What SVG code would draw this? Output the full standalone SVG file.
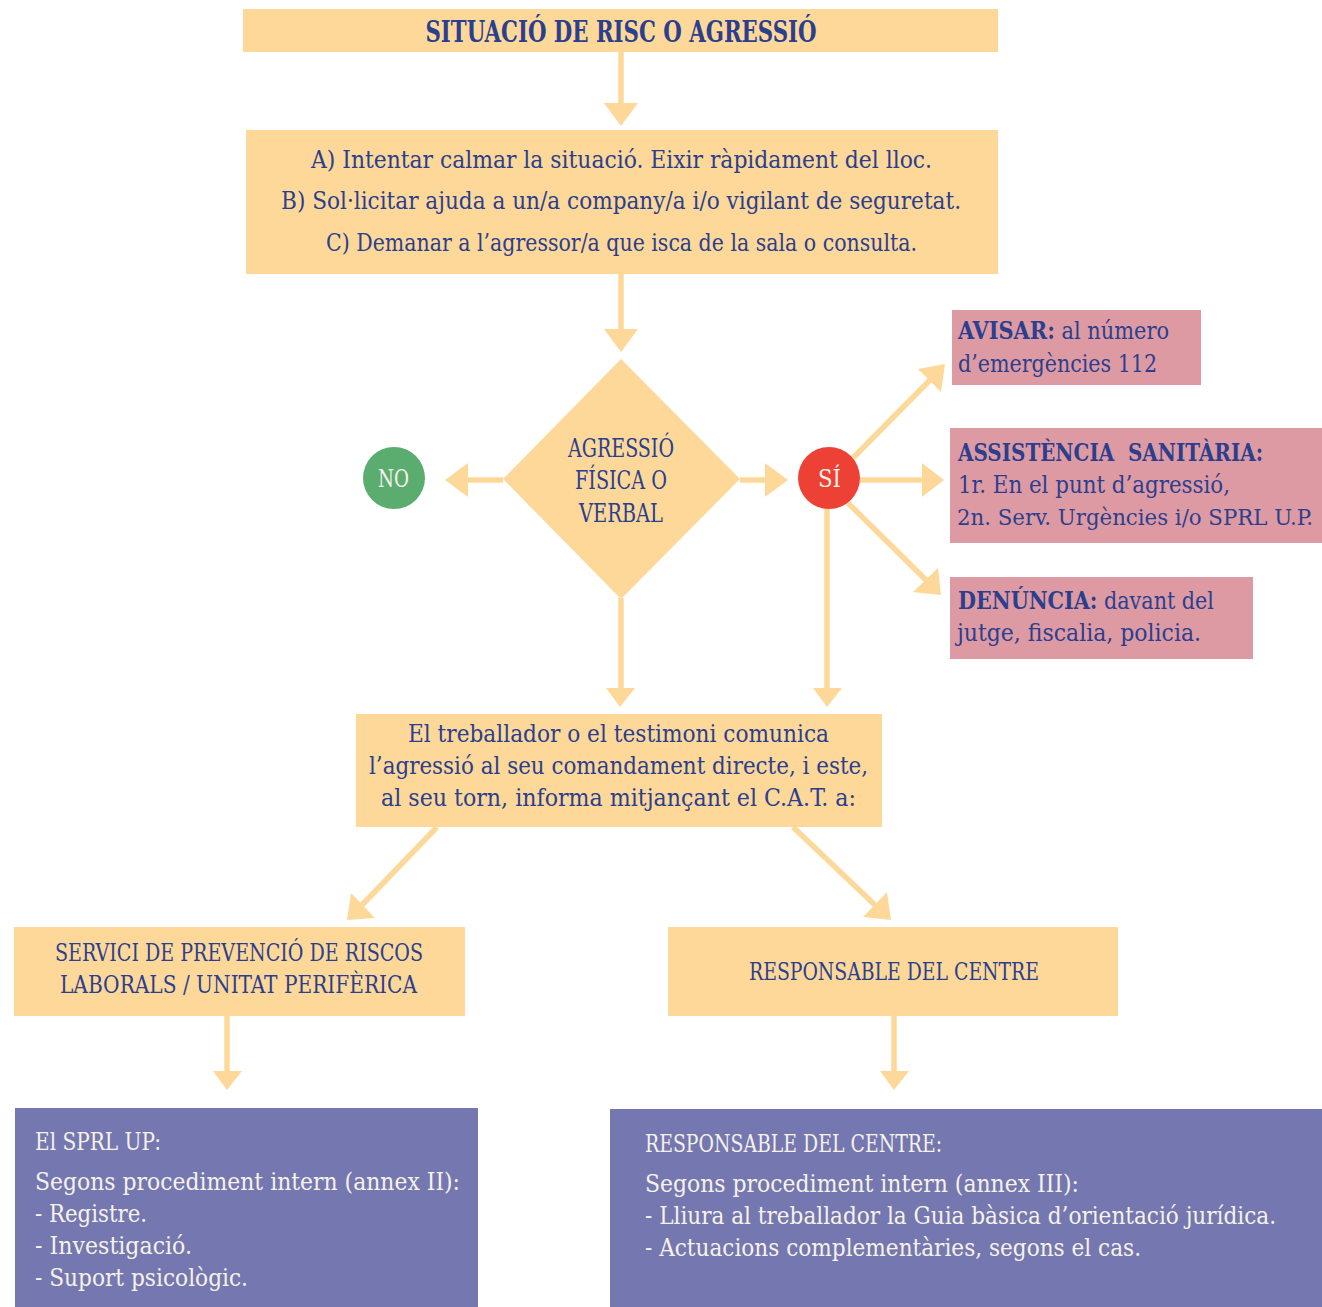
<svg xmlns="http://www.w3.org/2000/svg" width="1322" height="1307" viewBox="0 0 1322 1307">
<defs>
<style>
.y{fill:#FDD899}
.pk{fill:#DE9AA3}
.pu{fill:#7577B0}
.sh{stroke:#FDD899;stroke-width:5.5;fill:none}
.hd{fill:#FDD899}
text{font-family:"DejaVu Serif Condensed","DejaVu Serif","Liberation Serif",serif;font-stretch:condensed}
.t{fill:#2B3F8E;font-size:24.5px}
.c{text-anchor:middle}
.b{font-weight:bold}
.w{fill:#F6F2EA;font-size:24.5px}
</style>
</defs>
<rect width="1322" height="1307" fill="#FFFFFF"/>

<g id="connectors">
<line class="sh" x1="621" y1="52" x2="621" y2="104"/>
<polygon class="hd" points="604,103 638,103 621,126"/>
<line class="sh" x1="621" y1="274" x2="621" y2="330"/>
<polygon class="hd" points="604,329 638,329 621,352"/>
<line class="sh" x1="503" y1="480" x2="466" y2="480"/>
<polygon class="hd" points="468,463 468,497 445,480"/>
<line class="sh" x1="740" y1="480" x2="767" y2="480"/>
<polygon class="hd" points="765,463 765,497 788,480"/>
<line class="sh" x1="621" y1="598" x2="621" y2="690"/>
<polygon class="hd" points="606,688 635,688 620,707"/>
<line class="sh" x1="827" y1="505" x2="827" y2="690"/>
<polygon class="hd" points="813,688 842,688 827,707"/>
<line class="sh" x1="853" y1="458" x2="930" y2="380"/>
<polygon class="hd" points="918,369 941,392 945,364"/>
<line class="sh" x1="860" y1="480" x2="924" y2="480"/>
<polygon class="hd" points="922,463 922,497 944,480"/>
<line class="sh" x1="848" y1="503" x2="926" y2="580"/>
<polygon class="hd" points="913,592 938,568 941,595"/>
<line class="sh" x1="437" y1="827" x2="362" y2="905"/>
<polygon class="hd" points="351,893 375,918 347,920"/>
<line class="sh" x1="793" y1="827" x2="876" y2="906"/>
<polygon class="hd" points="887,892 863,917 891,920"/>
<line class="sh" x1="227" y1="1016" x2="227" y2="1073"/>
<polygon class="hd" points="213,1071 242,1071 227,1090"/>
<line class="sh" x1="894" y1="1016" x2="894" y2="1073"/>
<polygon class="hd" points="880,1071 909,1071 894,1090"/>
</g>

<g id="node-title">
<rect class="y" x="243" y="9" width="755" height="43"/>
<text class="t c b" x="621" y="42" textLength="391" lengthAdjust="spacingAndGlyphs" style="font-size:29px">SITUACIÓ DE RISC O AGRESSIÓ</text>
</g>

<g id="node-actions">
<rect class="y" x="246" y="130" width="752" height="144"/>
<text class="t" x="311" y="168" textLength="621" lengthAdjust="spacingAndGlyphs">A) Intentar calmar la situació. Eixir ràpidament del lloc.</text>
<text class="t" x="281" y="209" textLength="680" lengthAdjust="spacingAndGlyphs">B) Sol·licitar ajuda a un/a company/a i/o vigilant de seguretat.</text>
<text class="t" x="326" y="251" textLength="591" lengthAdjust="spacingAndGlyphs">C) Demanar a l’agressor/a que isca de la sala o consulta.</text>
</g>

<g id="node-decision">
<polygon class="y" points="621,359 740,479 621,599 503,479"/>
<text class="t" x="568" y="457" textLength="106" lengthAdjust="spacingAndGlyphs" style="font-size:25.5px">AGRESSIÓ</text>
<text class="t" x="575" y="489" textLength="92" lengthAdjust="spacingAndGlyphs" style="font-size:25.5px">FÍSICA O</text>
<text class="t" x="579" y="522" textLength="84" lengthAdjust="spacingAndGlyphs" style="font-size:25.5px">VERBAL</text>
</g>

<g id="node-no">
<circle cx="394" cy="478" r="31" fill="#5AAD6E"/>
<text class="w" x="378" y="487" textLength="31" lengthAdjust="spacingAndGlyphs" style="font-size:24px">NO</text>
</g>

<g id="node-si">
<circle cx="829" cy="478" r="31" fill="#EE4136"/>
<text class="w" x="818" y="487" textLength="23" lengthAdjust="spacingAndGlyphs" style="font-size:24px">SÍ</text>
</g>

<g id="node-avisar">
<rect class="pk" x="952" y="310" width="249" height="75"/>
<text class="t" x="958" y="339" textLength="211" lengthAdjust="spacingAndGlyphs"><tspan class="b">AVISAR:</tspan> al número</text>
<text class="t" x="958" y="372" textLength="199" lengthAdjust="spacingAndGlyphs">d’emergències 112</text>
</g>

<g id="node-assistencia">
<rect class="pk" x="950" y="428" width="372" height="115"/>
<text class="t b" x="958" y="461" textLength="305" lengthAdjust="spacingAndGlyphs">ASSISTÈNCIA&#160; SANITÀRIA:</text>
<text class="t" x="958" y="493" textLength="272" lengthAdjust="spacingAndGlyphs">1r. En el punt d’agressió,</text>
<text class="t" x="957" y="525" textLength="356" lengthAdjust="spacingAndGlyphs" style="font-size:21.5px">2n. Serv. Urgències i/o SPRL U.P.</text>
</g>

<g id="node-denuncia">
<rect class="pk" x="950" y="577" width="303" height="82"/>
<text class="t" x="958" y="609" textLength="256" lengthAdjust="spacingAndGlyphs"><tspan class="b">DENÚNCIA:</tspan> davant del</text>
<text class="t" x="957" y="641" textLength="244" lengthAdjust="spacingAndGlyphs">jutge, fiscalia, policia.</text>
</g>

<g id="node-comunica">
<rect class="y" x="356" y="714" width="526" height="113"/>
<text class="t" x="408" y="742" textLength="421" lengthAdjust="spacingAndGlyphs">El treballador o el testimoni comunica</text>
<text class="t" x="369" y="774" textLength="499" lengthAdjust="spacingAndGlyphs">l’agressió al seu comandament directe, i este,</text>
<text class="t" x="381" y="806" textLength="475" lengthAdjust="spacingAndGlyphs">al seu torn, informa mitjançant el C.A.T. a:</text>
</g>

<g id="node-servici">
<rect class="y" x="14" y="927" width="451" height="89"/>
<text class="t" x="55" y="961" textLength="368" lengthAdjust="spacingAndGlyphs">SERVICI DE PREVENCIÓ DE RISCOS</text>
<text class="t" x="60" y="993" textLength="357" lengthAdjust="spacingAndGlyphs">LABORALS / UNITAT PERIFÈRICA</text>
</g>

<g id="node-responsable">
<rect class="y" x="668" y="927" width="450" height="89"/>
<text class="t" x="749" y="980" textLength="290" lengthAdjust="spacingAndGlyphs">RESPONSABLE DEL CENTRE</text>
</g>

<g id="node-sprl">
<rect class="pu" x="15" y="1108" width="463" height="199"/>
<text class="w" x="35" y="1150" textLength="126" lengthAdjust="spacingAndGlyphs">El SPRL UP:</text>
<text class="w" x="35" y="1190" textLength="425" lengthAdjust="spacingAndGlyphs">Segons procediment intern (annex II):</text>
<text class="w" x="35" y="1222" textLength="112" lengthAdjust="spacingAndGlyphs">- Registre.</text>
<text class="w" x="35" y="1254" textLength="157" lengthAdjust="spacingAndGlyphs">- Investigació.</text>
<text class="w" x="35" y="1286" textLength="213" lengthAdjust="spacingAndGlyphs">- Suport psicològic.</text>
</g>

<g id="node-centre">
<rect class="pu" x="610" y="1109" width="712" height="198"/>
<text class="w" x="645" y="1152" textLength="297" lengthAdjust="spacingAndGlyphs">RESPONSABLE DEL CENTRE:</text>
<text class="w" x="645" y="1192" textLength="434" lengthAdjust="spacingAndGlyphs">Segons procediment intern (annex III):</text>
<text class="w" x="645" y="1224" textLength="631" lengthAdjust="spacingAndGlyphs">- Lliura al treballador la Guia bàsica d’orientació jurídica.</text>
<text class="w" x="645" y="1256" textLength="496" lengthAdjust="spacingAndGlyphs">- Actuacions complementàries, segons el cas.</text>
</g>
</svg>
